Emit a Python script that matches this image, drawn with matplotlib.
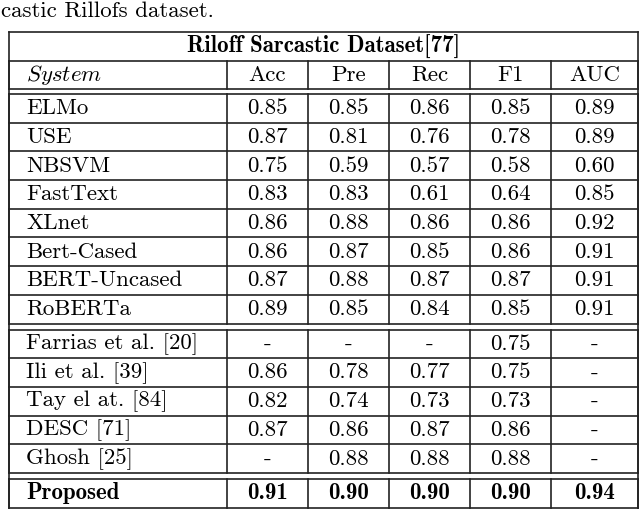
import matplotlib
matplotlib.use("Agg")
import matplotlib.pyplot as plt

plt.rcParams['font.family'] = 'serif'
plt.rcParams['font.serif'] = ['cmr10']
plt.rcParams['mathtext.fontset'] = 'cm'

title = "Riloff Sarcastic Dataset[77]"
columns = ["Acc", "Pre", "Rec", "F1", "AUC"]
group1 = ["ELMo", "USE", "NBSVM", "FastText", "XLnet", "Bert-Cased", "BERT-Uncased", "RoBERTa"]
group1_vals = [
    ["0.85", "0.85", "0.86", "0.85", "0.89"],
    ["0.87", "0.81", "0.76", "0.78", "0.89"],
    ["0.75", "0.59", "0.57", "0.58", "0.60"],
    ["0.83", "0.83", "0.61", "0.64", "0.85"],
    ["0.86", "0.88", "0.86", "0.86", "0.92"],
    ["0.86", "0.87", "0.85", "0.86", "0.91"],
    ["0.87", "0.88", "0.87", "0.87", "0.91"],
    ["0.89", "0.85", "0.84", "0.85", "0.91"],
]
group2 = ["Farrias et al. [20]", "Ili et al. [39]", "Tay el at. [84]", "DESC [71]", "Ghosh [25]"]
group2_vals = [
    ["-", "-", "-", "0.75", "-"],
    ["0.86", "0.78", "0.77", "0.75", "-"],
    ["0.82", "0.74", "0.73", "0.73", "-"],
    ["0.87", "0.86", "0.87", "0.86", "-"],
    ["-", "0.88", "0.88", "0.88", "-"],
]
proposed = "Proposed"
proposed_vals = ["0.91", "0.90", "0.90", "0.90", "0.94"]

fig = plt.figure(figsize=(6.4, 5.11), dpi=100)
ax = fig.add_axes([0, 0, 1, 1])
ax.set_xlim(0, 640)
ax.set_ylim(511, 0)
ax.axis('off')

xs = [9, 227, 308, 389, 470, 551, 638]
lc = '#222222'
lw = 1.2
fs = 16.5
RH = 28.7

ax.text(1, 11, "castic Rillofs dataset.", fontsize=16.5, va='center', ha='left')

top = 32
def hline(y):
    ax.plot([xs[0], xs[-1]], [y, y], color=lc, lw=lw)
def vlines(y0, y1, inner=True):
    for i, x in enumerate(xs):
        if inner or i in (0, len(xs) - 1):
            ax.plot([x, x], [y0, y1], color=lc, lw=lw)

hline(top)
hline(top + 29)
ax.text((xs[0] + xs[-1]) / 2, top + 15, title, fontsize=fs, ha='center', va='center', family='cmb10')
y0 = top + 29
y1 = y0 + 28
hline(y1)
vlines(y0, y1)
ax.text(26, (y0 + y1) / 2, r"$\mathit{System}$", fontsize=fs, ha='left', va='center')
for j, c in enumerate(columns):
    ax.text((xs[j + 1] + xs[j + 2]) / 2, (y0 + y1) / 2, c, fontsize=fs, ha='center', va='center')
vlines(top, 508, inner=False)

def block(ystart, names, vals, bold=False):
    hline(ystart)
    y = ystart
    for n, v in zip(names, vals):
        yc = y + RH / 2
        kw = dict(family='cmb10') if bold else {}
        ax.text(26, yc, n, fontsize=fs, ha='left', va='center', **kw)
        for j, s in enumerate(v):
            ax.text((xs[j + 1] + xs[j + 2]) / 2, yc, s, fontsize=fs, ha='center', va='center', **kw)
        y += RH
        hline(y)
    vlines(ystart, y)
    return y

ye = block(y1 + 5, group1, group1_vals)
ye = block(ye + 6, group2, group2_vals)
ye = block(ye + 6, [proposed], [proposed_vals], bold=True)

fig.savefig("out.png", dpi=100)
